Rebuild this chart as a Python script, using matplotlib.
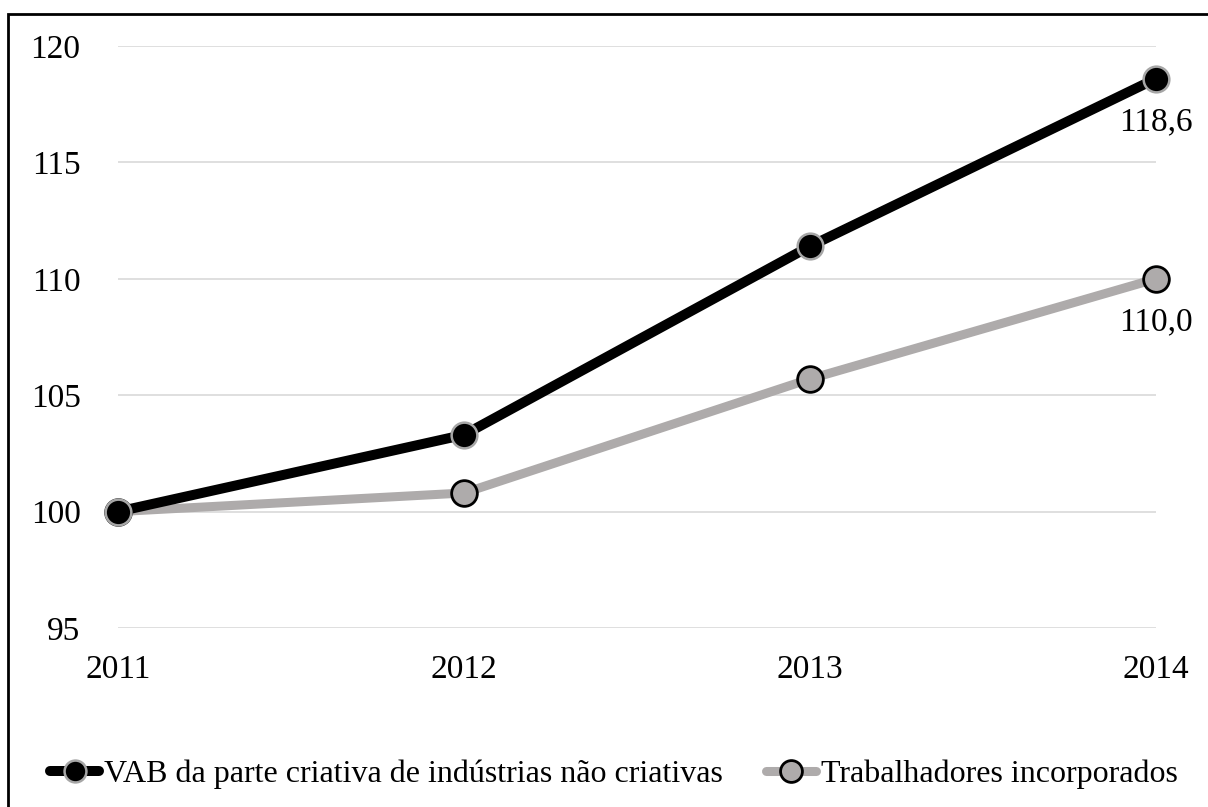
import matplotlib
matplotlib.use("Agg")
import matplotlib.pyplot as plt
from matplotlib.patches import Rectangle

plt.rcParams['font.family'] = ['Liberation Serif', 'DejaVu Serif']

years = ['2011', '2012', '2013', '2014']
vab_values = [100.0, 103.3, 111.4, 118.6]
workers_values = [100.0, 100.8, 105.7, 110.0]
series_labels = ['VAB da parte criativa de indústrias não criativas',
                 'Trabalhadores incorporados']
y_ticks = [95, 100, 105, 110, 115, 120]

BLACK = '#000000'
GRAY = '#aeabab'
GRID = '#d9d9d9'

fig = plt.figure(figsize=(12.08, 8.07), dpi=100)
ax = fig.add_axes([0.0977, 0.2218, 0.8593, 0.7212])

x = list(range(len(years)))

for yv in y_ticks:
    ax.axhline(yv, color=GRID, lw=1.2, zorder=0)

ax.plot(x, workers_values, color=GRAY, lw=6.5, solid_capstyle='round',
        marker='o', markersize=18.5, markerfacecolor=GRAY,
        markeredgecolor=BLACK, markeredgewidth=2.0, zorder=3,
        clip_on=False, label=series_labels[1])
ax.plot(x, vab_values, color=BLACK, lw=7.2, solid_capstyle='round',
        marker='o', markersize=18.5, markerfacecolor=BLACK,
        markeredgecolor='#a6a6a6', markeredgewidth=1.8, zorder=4,
        clip_on=False, label=series_labels[0])

# value labels on the last point of each series
for vals in (vab_values, workers_values):
    ax.annotate(f"{vals[-1]:.1f}".replace('.', ','), (x[-1], vals[-1]),
                xytext=(0, -31), textcoords='offset points',
                ha='center', va='center', fontsize=24)

ax.set_xlim(0, 3)
ax.set_ylim(95, 120)
ax.set_yticks(y_ticks)
ax.set_xticks(x)
ax.set_xticklabels(years)
ax.tick_params(axis='both', length=0, labelsize=24)
ax.tick_params(axis='y', pad=27)
ax.tick_params(axis='x', pad=19)
for s in ax.spines.values():
    s.set_visible(False)

handles, labels = ax.get_legend_handles_labels()
order = [1, 0]
fig.legend([handles[i] for i in order], [labels[i] for i in order],
           loc='center', bbox_to_anchor=(0.508, 0.04), ncol=2,
           frameon=False, fontsize=23, handlelength=1.55,
           handletextpad=0.15, columnspacing=1.35, borderaxespad=0,
           markerscale=0.85)

# outer frame
fig.patches.append(Rectangle((8 / 1208, -0.05), 1.2, 1.05 - 14 / 807,
                             transform=fig.transFigure, fill=False,
                             edgecolor='black', lw=2, zorder=10))

fig.savefig('out.png', dpi=100)
